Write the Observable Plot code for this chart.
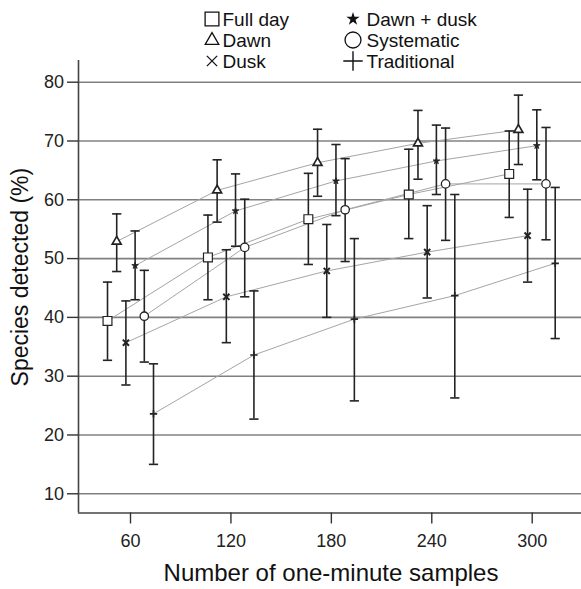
<!DOCTYPE html>
<html>
<head>
<meta charset="utf-8">
<script src="https://cdn.jsdelivr.net/npm/d3@7"></script>
<script src="https://cdn.jsdelivr.net/npm/@observablehq/plot@0.6"></script>
<style>
  body { margin: 0; background: #fff; font-family: "Liberation Sans", Arial, Helvetica, sans-serif; }
  #wrap { position: relative; width: 581px; height: 589px; overflow: hidden; }
  #chart { position: absolute; left: 0; top: 0; }
  .lg-sym { position: absolute; }
  .lg-txt { position: absolute; font-size: 19px; line-height: 1; color: #111; white-space: nowrap; }
</style>
</head>
<body>
<div id="wrap"><div id="chart"></div><div id="legend"></div></div>
<script>
// ---- Data ----
const samples = [60, 120, 180, 240, 300];
const treatments = ["Full day", "Dawn", "Dusk", "Dawn + dusk", "Systematic", "Traditional"];

const fullDayMean = [39.4, 50.2, 56.7, 60.9, 64.4];
const fullDayLow  = [32.7, 43.0, 49.0, 53.4, 57.0];
const fullDayHigh = [46.0, 57.4, 64.5, 68.6, 71.7];

const dawnMean = [52.9, 61.6, 66.3, 69.6, 71.9];
const dawnLow  = [47.8, 56.2, 60.6, 63.5, 66.0];
const dawnHigh = [57.6, 66.8, 72.0, 75.2, 77.8];

const duskMean = [35.7, 43.5, 47.9, 51.1, 53.9];
const duskLow  = [28.5, 35.7, 40.0, 43.3, 46.0];
const duskHigh = [42.8, 51.5, 55.8, 59.0, 61.8];

const dawnDuskMean = [48.8, 58.1, 63.2, 66.6, 69.2];
const dawnDuskLow  = [43.0, 52.1, 57.3, 60.9, 63.4];
const dawnDuskHigh = [54.7, 64.4, 69.4, 72.7, 75.3];

const systematicMean = [40.2, 51.9, 58.3, 62.7, 62.7];
const systematicLow  = [32.4, 43.5, 49.5, 53.1, 53.2];
const systematicHigh = [48.0, 60.1, 67.0, 72.2, 72.3];

const traditionalMean = [23.6, 33.6, 39.7, 43.7, 49.2];
const traditionalLow  = [15.0, 22.7, 25.8, 26.3, 36.4];
const traditionalHigh = [32.1, 44.5, 53.4, 60.9, 62.1];

const yTicks = [10, 20, 30, 40, 50, 60, 70, 80];
const xLabel = "Number of one-minute samples";
const yLabel = "Species detected (%)";

// ---- Build table ----
const meanSets = [fullDayMean, dawnMean, duskMean, dawnDuskMean, systematicMean, traditionalMean];
const lowSets  = [fullDayLow, dawnLow, duskLow, dawnDuskLow, systematicLow, traditionalLow];
const highSets = [fullDayHigh, dawnHigh, duskHigh, dawnDuskHigh, systematicHigh, traditionalHigh];

const tables = treatments.map((t, i) => samples.map((s, j) => ({
  treatment: t, samples: s, mean: meanSets[i][j], low: lowSets[i][j], high: highSets[i][j]
})));

// ---- Styles ----
const ink = "#232323";
const plotSymbols = [
  {symbol: "square",   r: 5.0, fill: "white", stroke: ink, strokeWidth: 1.2},
  {symbol: "triangle", r: 3.3, fill: "white", stroke: ink, strokeWidth: 1.7},
  {symbol: "times",    r: 2.9, fill: "none",  stroke: ink, strokeWidth: 2.0},
  {symbol: "star",     r: 2.1, fill: ink,     stroke: ink, strokeWidth: 0.8},
  {symbol: "circle",   r: 4.2, fill: "white", stroke: ink, strokeWidth: 1.3},
  {symbol: "plus",     r: 2.5, fill: "none",  stroke: ink, strokeWidth: 1.7}
];
const dodgePx = 9.2;
const capSymbol = { draw(ctx) { ctx.moveTo(-4.6, 0); ctx.lineTo(4.6, 0); } };

const xDomain = [28.93, 329.45];
const yDomain = [6.73, 83.69];

const marks = [
  Plot.gridY(yTicks, {stroke: "#808080", strokeOpacity: 1, strokeWidth: 1.6}),
];
tables.forEach((rows, i) => {
  const dx = (i - 2.5) * dodgePx;
  marks.push(Plot.line(rows, {x: "samples", y: "mean", dx, stroke: "#a5a5a5", strokeWidth: 1}));
});
tables.forEach((rows, i) => {
  const dx = (i - 2.5) * dodgePx;
  marks.push(Plot.ruleX(rows, {x: "samples", y1: "low", y2: "high", dx, stroke: ink, strokeWidth: 1.6}));
  marks.push(Plot.dot(rows, {x: "samples", y: "low", dx, symbol: capSymbol, r: 3, fill: "none", stroke: ink, strokeWidth: 1.6}));
  marks.push(Plot.dot(rows, {x: "samples", y: "high", dx, symbol: capSymbol, r: 3, fill: "none", stroke: ink, strokeWidth: 1.6}));
  const st = plotSymbols[i];
  marks.push(Plot.dot(rows, {x: "samples", y: "mean", dx, ...st}));
});
marks.push(
  Plot.ruleX([xDomain[0]], {stroke: "#444", strokeWidth: 1.6}),
  Plot.ruleY([yDomain[0]], {stroke: "#444", strokeWidth: 1.6}),
  Plot.axisY(yTicks, {tickSize: 11, tickPadding: 3.5, fontSize: 18, stroke: "#333", strokeWidth: 1.4, label: null, fill: "#222"}),
  Plot.axisX(samples, {tickSize: 11, tickPadding: 10.5, fontSize: 18, stroke: "#333", strokeWidth: 1.4, label: null, fill: "#222"}),
  Plot.text([yLabel], {frameAnchor: "left", textAnchor: "middle", lineAnchor: "middle", rotate: -90, dx: -58, dy: -9.6, fontSize: 23, fill: "#111"}),
  Plot.text([xLabel], {frameAnchor: "bottom", textAnchor: "middle", lineAnchor: "middle", dy: 60, dx: 1, fontSize: 24, fill: "#111"})
);

const chart = Plot.plot({
  width: 581,
  height: 589,
  marginTop: 60,
  marginBottom: 76.5,
  marginLeft: 78,
  marginRight: 0,
  x: {type: "linear", domain: xDomain},
  y: {type: "linear", domain: yDomain},
  style: {fontFamily: "'Liberation Sans', Arial, Helvetica, sans-serif", fontSize: "18px", color: "#222", background: "white"},
  marks
});
document.getElementById("chart").appendChild(chart);

// ---- Legend (HTML overlay) ----
const legendSymbols = [
  {type: d3.symbolSquare,   size: 190, fill: "none", sw: 1.3},
  {type: d3.symbolTriangle, size: 80,  fill: "none", sw: 1.3},
  {type: d3.symbolTimes,    size: 70,  fill: "none", sw: 1.3},
  {type: d3.symbolStar,     size: 55,  fill: "#111", sw: 0},
  {type: d3.symbolCircle,   size: 200, fill: "none", sw: 1.3},
  {type: d3.symbolPlus,     size: 125, fill: "none", sw: 1.4}
];
const legendCols = [{sym: 211.5, txt: 222.5}, {sym: 353, txt: 366.5}];
const legendRows = [19.2, 40.2, 61.3];
const legend = document.getElementById("legend");
treatments.forEach((t, i) => {
  const col = legendCols[Math.floor(i / 3)];
  const cy = legendRows[i % 3];
  const ls = legendSymbols[i];
  const box = 24;
  const svg = d3.create("svg").attr("class", "lg-sym").attr("width", box).attr("height", box)
    .style("left", (col.sym - box / 2) + "px").style("top", (cy - box / 2) + "px");
  svg.append("path")
    .attr("d", d3.symbol(ls.type, ls.size)())
    .attr("transform", `translate(${box / 2},${box / 2 + (ls.type === d3.symbolTriangle ? 0.5 : 0)})`)
    .attr("fill", ls.fill)
    .attr("stroke", "#111")
    .attr("stroke-width", ls.sw);
  legend.appendChild(svg.node());
  const span = document.createElement("div");
  span.className = "lg-txt";
  span.textContent = t;
  span.style.left = col.txt + "px";
  span.style.top = (cy - 9.3) + "px";
  legend.appendChild(span);
});
</script>
</body>
</html>
